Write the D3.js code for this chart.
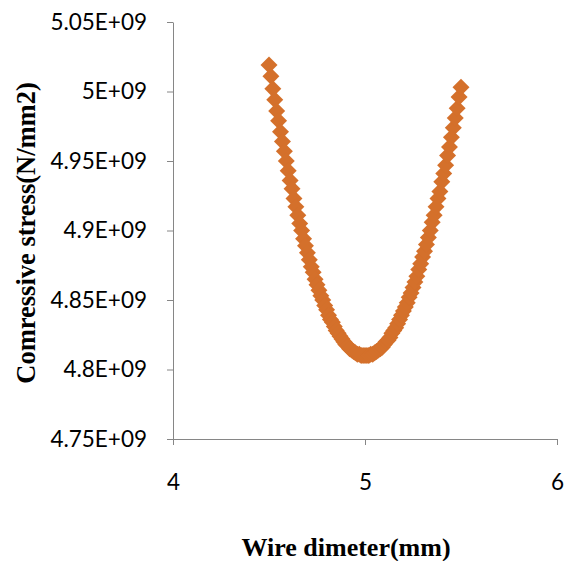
<!DOCTYPE html>
<html>
<head>
<meta charset="utf-8">
<script src="https://cdn.jsdelivr.net/npm/d3@7"></script>
<style>
  body { margin: 0; background: #fff; }
</style>
</head>
<body>
<div id="chart"></div>
<script>
// wire diameter (mm)
const diameter = [
  4.50, 4.51, 4.52, 4.53, 4.54, 4.55, 4.56, 4.57, 4.58, 4.59,
  4.60, 4.61, 4.62, 4.63, 4.64, 4.65, 4.66, 4.67, 4.68, 4.69,
  4.70, 4.71, 4.72, 4.73, 4.74, 4.75, 4.76, 4.77, 4.78, 4.79,
  4.80, 4.81, 4.82, 4.83, 4.84, 4.85, 4.86, 4.87, 4.88, 4.89,
  4.90, 4.91, 4.92, 4.93, 4.94, 4.95, 4.96, 4.97, 4.98, 4.99,
  5.00,
  5.01, 5.02, 5.03, 5.04, 5.05, 5.06, 5.07, 5.08, 5.09, 5.10,
  5.11, 5.12, 5.13, 5.14, 5.15, 5.16, 5.17, 5.18, 5.19, 5.20,
  5.21, 5.22, 5.23, 5.24, 5.25, 5.26, 5.27, 5.28, 5.29, 5.30,
  5.31, 5.32, 5.33, 5.34, 5.35, 5.36, 5.37, 5.38, 5.39, 5.40,
  5.41, 5.42, 5.43, 5.44, 5.45, 5.46, 5.47, 5.48, 5.49, 5.50
];

// compressive stress (N/mm2)
const stress = [
  5.019e9, 5.011e9, 5.002e9, 4.994e9, 4.986e9, 4.979e9, 4.971e9, 4.964e9, 4.957e9, 4.950e9,
  4.943e9, 4.936e9, 4.930e9, 4.923e9, 4.917e9, 4.911e9, 4.905e9, 4.900e9, 4.894e9, 4.889e9,
  4.884e9, 4.879e9, 4.874e9, 4.870e9, 4.865e9, 4.861e9, 4.857e9, 4.853e9, 4.850e9, 4.846e9,
  4.843e9, 4.839e9, 4.836e9, 4.834e9, 4.831e9, 4.828e9, 4.826e9, 4.824e9, 4.822e9, 4.820e9,
  4.818e9, 4.817e9, 4.815e9, 4.814e9, 4.813e9, 4.812e9, 4.811e9, 4.811e9, 4.810e9, 4.810e9,
  4.810e9,
  4.810e9, 4.810e9, 4.811e9, 4.811e9, 4.812e9, 4.813e9, 4.814e9, 4.815e9, 4.816e9, 4.818e9,
  4.820e9, 4.821e9, 4.823e9, 4.826e9, 4.828e9, 4.830e9, 4.833e9, 4.836e9, 4.839e9, 4.842e9,
  4.845e9, 4.848e9, 4.852e9, 4.855e9, 4.859e9, 4.863e9, 4.867e9, 4.872e9, 4.876e9, 4.881e9,
  4.885e9, 4.890e9, 4.895e9, 4.900e9, 4.906e9, 4.911e9, 4.917e9, 4.923e9, 4.928e9, 4.935e9,
  4.941e9, 4.947e9, 4.954e9, 4.960e9, 4.967e9, 4.974e9, 4.981e9, 4.988e9, 4.996e9, 5.003e9
];

const xTicks = [4, 5, 6];
const yTicks = [4.75e9, 4.8e9, 4.85e9, 4.9e9, 4.95e9, 5e9, 5.05e9];
const yTickLabels = ["4.75E+09", "4.8E+09", "4.85E+09", "4.9E+09", "4.95E+09", "5E+09", "5.05E+09"];

const w = 565, h = 561;
const plotLeft = 173, plotRight = 557, plotTop = 22, plotBottom = 439;
const axisColor = "#868686";
const markerColor = "#D4702B";

let svg = d3.select("#chart")
            .append("svg")
            .attr("width", w)
            .attr("height", h);

let xScale = d3.scaleLinear()
                .domain([4, 6])
                .range([plotLeft, plotRight]);

let yScale = d3.scaleLinear()
                .domain([4.75e9, 5.05e9])
                .range([plotBottom, plotTop]);

let xAxis = d3.axisBottom(xScale)
                .tickValues(xTicks)
                .tickSizeInner(6)
                .tickSizeOuter(0)
                .tickFormat(d3.format("d"));

let yAxis = d3.axisLeft(yScale)
                .tickValues(yTicks)
                .tickSizeInner(6)
                .tickSizeOuter(0)
                .tickPadding(20)
                .tickFormat((d, i) => yTickLabels[i]);

//x axis
let gx = svg.append("g")
            .attr("transform", `translate(0, ${plotBottom})`)
            .call(xAxis);
gx.selectAll("line, path").attr("stroke", axisColor);
gx.selectAll("text")
    .attr("y", 51)
    .attr("dy", 0)
    .attr("fill", "#000")
    .style("font-family", "Lato, sans-serif")
    .style("font-size", "22.5px");

//y axis
let gy = svg.append("g")
            .attr("transform", `translate(${plotLeft}, 0)`)
            .call(yAxis);
gy.selectAll("line, path").attr("stroke", axisColor);
gy.selectAll("text")
    .attr("fill", "#000")
    .style("font-family", "Lato, sans-serif")
    .style("font-size", "22.5px");

//axis titles
svg.append("text")
    .attr("x", 346)
    .attr("y", 556)
    .attr("text-anchor", "middle")
    .style("font-family", "'Liberation Serif', 'Times New Roman', serif")
    .style("font-weight", "bold")
    .style("font-size", "26px")
    .text("Wire dimeter(mm)");

svg.append("text")
    .attr("transform", "translate(35, 233) rotate(-90)")
    .attr("text-anchor", "middle")
    .style("font-family", "'Liberation Serif', 'Times New Roman', serif")
    .style("font-weight", "bold")
    .style("font-size", "26.5px")
    .text("Comressive stress(N/mm2)");

//diamond markers
let diamond = d3.symbol().type(d3.symbolSquare).size(144);

svg.append("g")
    .selectAll("path")
    .data(diameter.map((d, i) => ({ x: d, y: stress[i] })))
    .enter()
    .append("path")
    .attr("d", diamond)
    .attr("transform", d => `translate(${xScale(d.x)}, ${yScale(d.y)}) rotate(45)`)
    .attr("fill", markerColor);
</script>
</body>
</html>
